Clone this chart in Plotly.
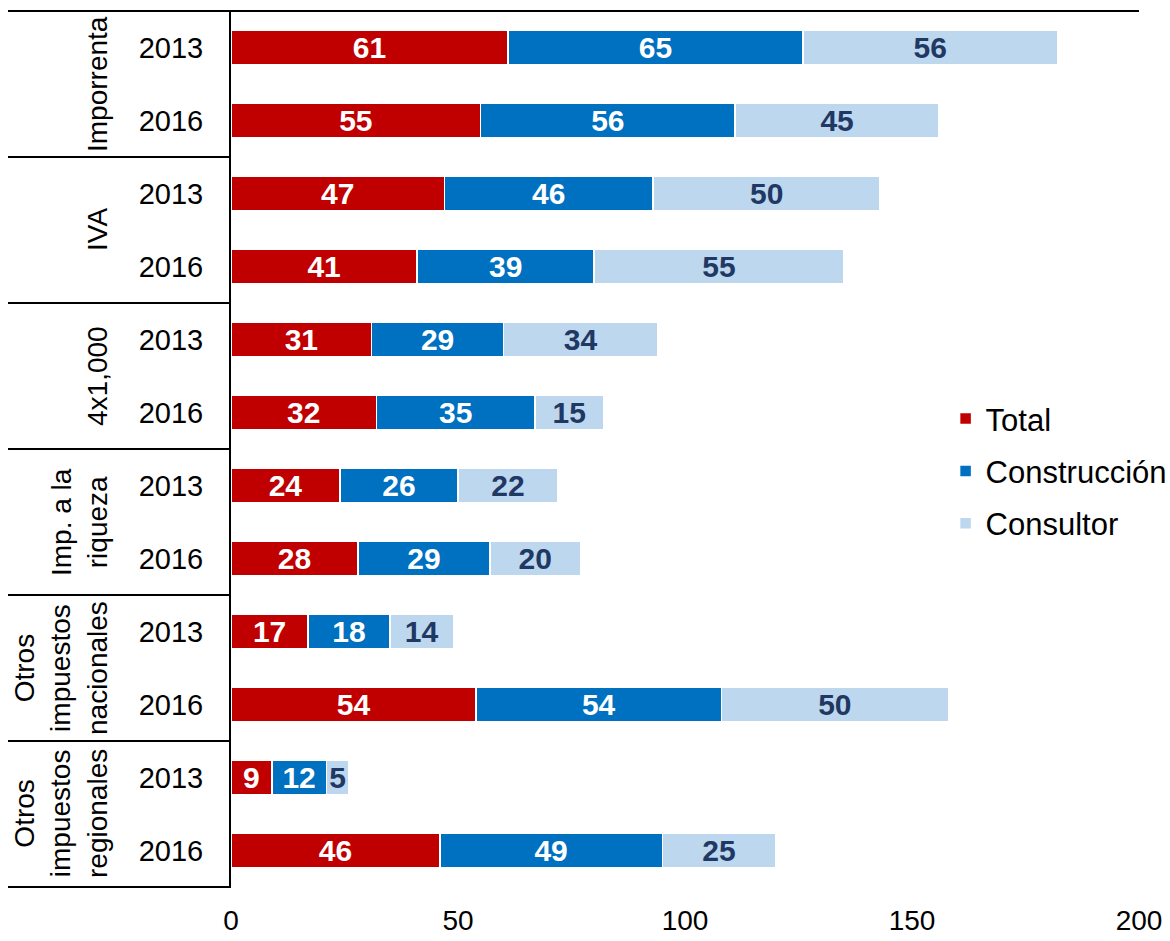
import plotly.graph_objects as go

groups = ["Imporrenta", "IVA", "4x1,000", "Imp. a la<br>riqueza",
          "Otros<br>impuestos<br>nacionales", "Otros<br>impuestos<br>regionales"]
years = ["2013", "2016"]
total = [61, 55, 47, 41, 31, 32, 24, 28, 17, 54, 9, 46]
construccion = [65, 56, 46, 39, 29, 35, 26, 29, 18, 54, 12, 49]
consultor = [56, 45, 50, 55, 34, 15, 22, 20, 14, 50, 5, 25]
x_ticks = [0, 50, 100, 150, 200]

cats = [f"{g}|{y}" for g in groups for y in years]
ticktext = [y for g in groups for y in years]

FONT = "Arial, Liberation Sans, sans-serif"
series = [
    ("Total", total, "#C00000", "white"),
    ("Construcción", construccion, "#0070C0", "white"),
    ("Consultor", consultor, "#BDD7EE", "#1F3864"),
]

fig = go.Figure()
for name, vals, col, tcol in series:
    fig.add_trace(go.Bar(
        y=cats, x=vals, name=name, orientation="h", legendgroup=name,
        marker=dict(color=col, line=dict(color="white", width=1.5)),
        text=vals, textposition="inside", insidetextanchor="middle",
        textangle=0, constraintext="none",
        textfont=dict(family=FONT, size=30, color=tcol, weight="bold"),
        hoverinfo="skip",
    ))

L, R, T, B = 231, 31, 10, 53
W, H = 1170, 941
pw = W - L - R
x_left = (8 - L) / pw

shapes = []
shapes.append(dict(type="line", xref="paper", yref="y", x0=x_left, x1=1.0,
                   y0=-0.5, y1=-0.5, line=dict(color="black", width=2)))
for k in range(1, len(groups) + 1):
    yy = 2 * k - 0.5
    shapes.append(dict(type="line", xref="paper", yref="y", x0=x_left, x1=0,
                       y0=yy, y1=yy, line=dict(color="black", width=2)))

annotations = []
centers_px = {1: 97, 2: 79, 3: 61}
for i, g in enumerate(groups):
    n = g.count("<br>") + 1
    cx = (centers_px[n] - L) / pw
    annotations.append(dict(
        text=g, xref="paper", yref="y", x=cx, y=2 * i + 0.5,
        xanchor="center", yanchor="middle", textangle=-90, showarrow=False,
        font=dict(family=FONT, size=28, color="black"), align="center",
    ))

fig.update_layout(
    width=W, height=H, barmode="stack", bargap=0.54,
    margin=dict(l=L, r=R, t=T, b=B, pad=0, autoexpand=False),
    plot_bgcolor="white", paper_bgcolor="white",
    font=dict(family=FONT, size=28, color="black"),
    shapes=shapes, annotations=annotations,
    legend=dict(x=0.787, y=0.475, xanchor="left", yanchor="middle",
                traceorder="grouped", tracegroupgap=9,
                font=dict(family=FONT, size=31, color="black"),
                bgcolor="rgba(0,0,0,0)"),
    xaxis=dict(range=[0, 200], tickvals=x_ticks, showgrid=False, zeroline=False,
               showline=False, ticks="outside", ticklen=7, automargin=False,
               tickcolor="rgba(0,0,0,0)",
               tickfont=dict(family=FONT, size=28, color="black")),
    yaxis=dict(categoryorder="array", categoryarray=cats, autorange="reversed",
               tickvals=cats, ticktext=ticktext, showgrid=False, zeroline=False,
               showline=True, linecolor="black", linewidth=2, automargin=False,
               ticks="", ticklabelstandoff=20,
               tickfont=dict(family=FONT, size=29, color="black")),
)

fig.write_html("out.html", config={"displayModeBar": False},
               post_script="document.body.style.margin='0';document.body.style.overflow='hidden';")
